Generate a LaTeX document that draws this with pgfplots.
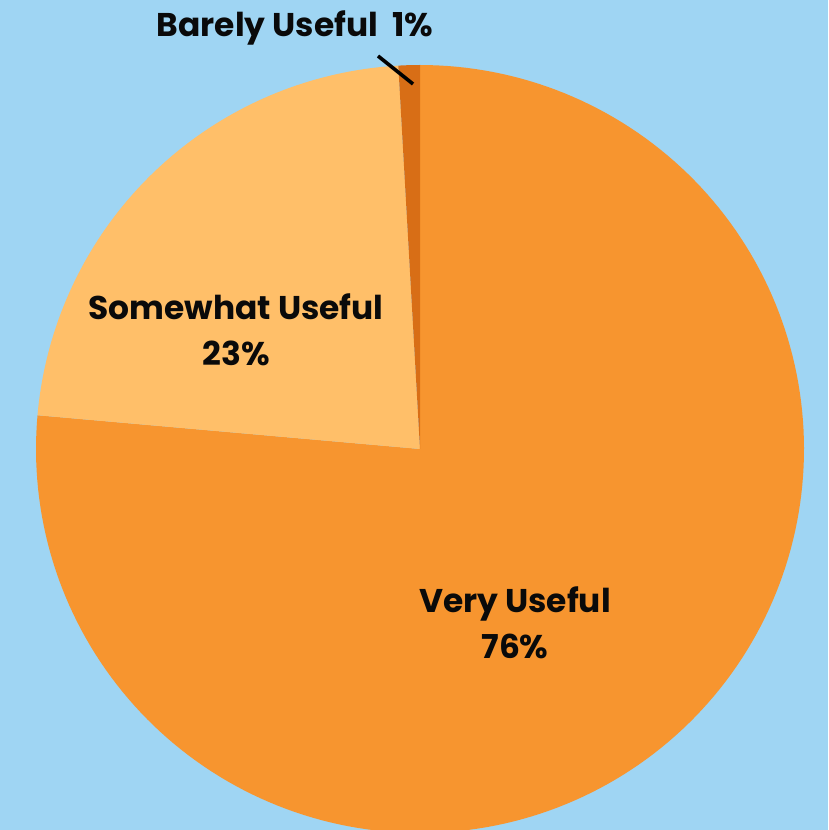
\documentclass[border=0pt]{standalone}
\usepackage{pgfplots}
\pgfplotsset{compat=1.18}
\usepackage{fontspec}
\setmainfont{Poppins}
\definecolor{bgblue}{HTML}{9FD5F3}
\definecolor{very}{HTML}{F7952F}
\definecolor{some}{HTML}{FFBF69}
\definecolor{barely}{HTML}{D86E16}
\definecolor{txt}{HTML}{0A0A0A}
% data (percent)
\def\vVery{76.4}
\def\vSome{22.7}
\def\vBarely{0.9}
\def\cx{420}
\def\cy{381}
\def\rr{384}
\pgfmathsetmacro{\aA}{90}
\pgfmathsetmacro{\aB}{90-3.6*\vVery}
\pgfmathsetmacro{\aC}{\aB-3.6*\vSome}
\pgfmathsetmacro{\aD}{\aC-3.6*\vBarely}
\begin{document}
\begin{tikzpicture}
\begin{axis}[
  scale only axis, width=828bp, height=830bp,
  xmin=0, xmax=828, ymin=0, ymax=830,
  hide axis,
  axis background/.style={fill=bgblue},
  clip=true,
]
\addplot[fill=very, draw=none, domain=\aB:\aA, samples=200]
  ({\cx+\rr*cos(x)},{\cy+\rr*sin(x)}) -- (axis cs:\cx,\cy) -- cycle;
\addplot[fill=some, draw=none, domain=\aC:\aB, samples=80]
  ({\cx+\rr*cos(x)},{\cy+\rr*sin(x)}) -- (axis cs:\cx,\cy) -- cycle;
\addplot[fill=barely, draw=none, domain=\aD:\aC, samples=10]
  ({\cx+\rr*cos(x)},{\cy+\rr*sin(x)}) -- (axis cs:\cx,\cy) -- cycle;
\addplot[draw=black, line width=3.6pt] coordinates {(378,774) (413,746)};
\node[font=\fontsize{33}{40}\selectfont\bfseries, text=txt] at (axis cs:295,802) {Barely Useful\ \ 1\%};
\node[font=\fontsize{33}{40}\selectfont\bfseries, text=txt, align=center] at (axis cs:236,500) {Somewhat Useful\\[6pt]23\%};
\node[font=\fontsize{33}{40}\selectfont\bfseries, text=txt, align=center] at (axis cs:515,207) {Very Useful\\[6pt]76\%};
\end{axis}
\end{tikzpicture}
\end{document}
